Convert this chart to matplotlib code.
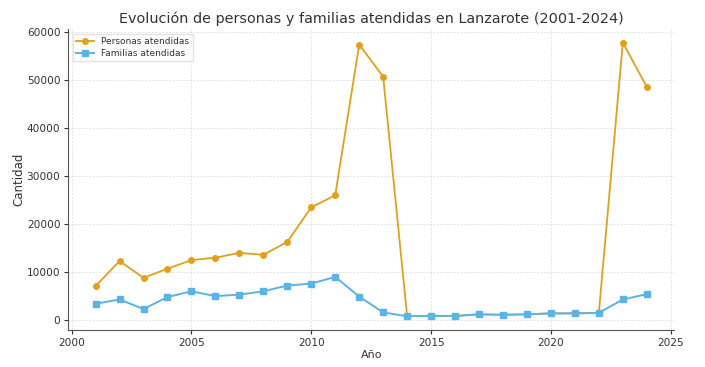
import matplotlib
matplotlib.use("Agg")
import matplotlib.pyplot as plt
import numpy as np

years = list(range(2001, 2025))
personas = [7000, 12200, 8700, 10600, 12400, 12900, 13900, 13500, 16200, 23400, 25900,
            57300, 50600, 700, 800, 750, 1100, 1000, 1100, 1300, 1300, 1400, 57700, 48500]
familias = [3300, 4200, 2200, 4700, 5900, 4900, 5200, 5900, 7100, 7500, 8900,
            4800, 1500, 700, 800, 750, 1100, 1000, 1100, 1300, 1300, 1400, 4200, 5300]

txt = '#333333'
plt.rcParams['text.color'] = txt
plt.rcParams['axes.labelcolor'] = txt
plt.rcParams['xtick.color'] = txt
plt.rcParams['ytick.color'] = txt

fig = plt.figure(figsize=(7.05, 3.67), dpi=100)
ax = fig.add_axes([0.0965, 0.101, 0.86, 0.82])

ax.plot(years, personas, marker='o', color='#E3A01C', lw=1.3, ms=4, label='Personas atendidas', zorder=2)
ax.plot(years, familias, marker='s', color='#5AB4E5', lw=1.4, ms=4, label='Familias atendidas', zorder=3)

ax.set_title('Evolución de personas y familias atendidas en Lanzarote (2001-2024)', fontsize=10.4, pad=4.5)
ax.set_xlabel('Año', fontsize=8, labelpad=1.5)
ax.set_ylabel('Cantidad', fontsize=8.5, labelpad=1)
ax.tick_params(labelsize=7.6, length=3, colors=txt, pad=2.5)
ax.grid(True, linestyle=(0, (3, 2)), color='#dadada', linewidth=0.5)
for s in ['top', 'right']:
    ax.spines[s].set_visible(False)
for s in ['left', 'bottom']:
    ax.spines[s].set_color('#555555')
ax.set_xticks([2000, 2005, 2010, 2015, 2020, 2025])
ax.legend(loc='upper left', fontsize=6.5, frameon=True, fancybox=False, edgecolor='#dddddd',
          handlelength=2, borderpad=0.4, labelspacing=0.3)

fig.savefig('out.png', dpi=100)
